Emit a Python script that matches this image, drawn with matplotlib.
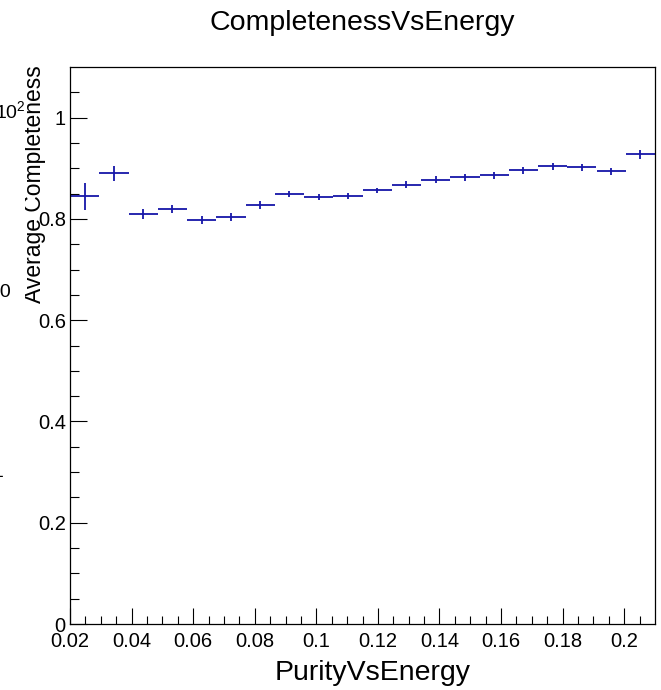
import matplotlib
matplotlib.use("Agg")
import matplotlib.pyplot as plt
from matplotlib.transforms import Bbox
import numpy as np

plt.rcParams["font.family"] = ["Liberation Sans", "DejaVu Sans"]
plt.rcParams["mathtext.fontset"] = "custom"
plt.rcParams["mathtext.rm"] = "Liberation Sans"
plt.rcParams["mathtext.it"] = "Liberation Sans:italic"

# 20 bins between 0.02 and 0.21
bin_edges = np.linspace(0.02, 0.21, 21)
completeness = [0.8445, 0.890, 0.8096, 0.8195, 0.7978, 0.8037, 0.8274, 0.8498,
                0.8432, 0.8458, 0.8564, 0.8676, 0.8775, 0.882, 0.886, 0.8959,
                0.9038, 0.9019, 0.894, 0.9275]
errors = [0.027, 0.0148, 0.0099, 0.0082, 0.0076, 0.0079, 0.0082, 0.0063,
          0.0063, 0.0056, 0.0056, 0.0066, 0.0066, 0.0066, 0.0066, 0.0066,
          0.0066, 0.0066, 0.0066, 0.0085]

x_ticks = [0.02, 0.04, 0.06, 0.08, 0.1, 0.12, 0.14, 0.16, 0.18, 0.2]
x_ticklabels = ["0.02", "0.04", "0.06", "0.08", "0.1", "0.12", "0.14", "0.16", "0.18", "0.2"]
y_ticks = [0, 0.2, 0.4, 0.6, 0.8, 1.0]
y_ticklabels = ["0", "0.2", "0.4", "0.6", "0.8", "1"]

# leftover labels of a neighbouring pad (log axis)
stray_labels = [r"$10^{2}$", "10", "1"]

fig = plt.figure(figsize=(6.61, 6.90), dpi=100)
W, H = 661, 690
ax = fig.add_axes([70 / W, 1 - 624 / H, (655 - 70) / W, (624 - 67) / H])

centers = 0.5 * (bin_edges[1:] + bin_edges[:-1])
halfw = 0.5 * np.diff(bin_edges)
ax.errorbar(centers, completeness, xerr=halfw, yerr=errors, fmt="none",
            ecolor="#1616a8", elinewidth=1.3, capsize=0)

ax.set_xlim(0.02, 0.21)
ax.set_ylim(0, 1.1)
ax.set_xticks(x_ticks)
ax.set_xticklabels(x_ticklabels)
ax.set_yticks(y_ticks)
ax.set_yticklabels(y_ticklabels)
ax.set_xticks(np.arange(0.025, 0.21, 0.005), minor=True)
ax.set_yticks(np.arange(0.05, 1.1, 0.05), minor=True)
ax.tick_params(axis="both", which="both", direction="in", labelsize=14.5,
               width=0.8, top=False, right=False)
ax.tick_params(axis="x", which="major", length=11.5, pad=6)
ax.tick_params(axis="x", which="minor", length=5.8)
ax.tick_params(axis="y", which="major", length=12.5, pad=3)
ax.tick_params(axis="y", which="minor", length=6.3)
for s in ax.spines.values():
    s.set_linewidth(0.9)
    s.set_color("black")

fig.text(362 / W, 1 - 30 / H, "CompletenessVsEnergy", fontsize=20.5,
         ha="center", va="baseline")
fig.text(373 / W, 1 - 680 / H, "PurityVsEnergy", fontsize=20.5,
         ha="center", va="baseline")
ylab = fig.text(41.5 / W, 1 - 65 / H, "Average Completeness", fontsize=16.5,
                rotation=90, rotation_mode="anchor", ha="right", va="baseline")
# the title is cut on its left side in the original
ylab.set_clip_box(Bbox([[25, 0], [W, H]]))
ylab.set_clip_on(True)

fig.text(26 / W, 1 - 118 / H, stray_labels[0], fontsize=14, ha="right", va="baseline")
fig.text(11 / W, 1 - 297 / H, stray_labels[1], fontsize=14, ha="right", va="baseline")
fig.text(3 / W, 1 - 477 / H, stray_labels[2], fontsize=14, ha="right", va="baseline")

fig.savefig("out.png", dpi=100)
